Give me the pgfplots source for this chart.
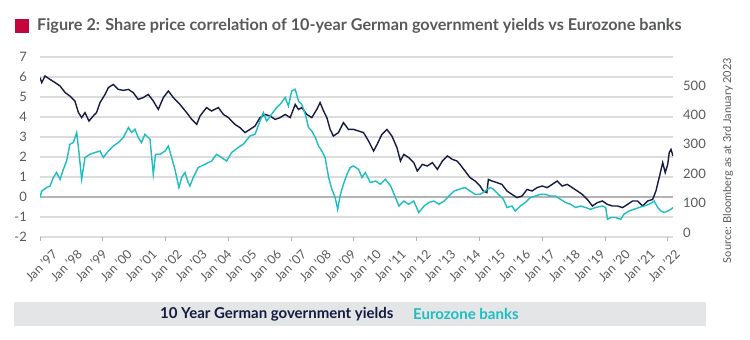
\documentclass[border=0pt]{standalone}
\usepackage{fontspec}
\setmainfont{Lato}
\usepackage{pgfplots}
\pgfplotsset{compat=1.18}
\definecolor{navy}{HTML}{141A40}
\definecolor{tealc}{HTML}{1DBDC0}
\definecolor{txt}{HTML}{58595B}
\definecolor{grd}{HTML}{DCDCDC}
\definecolor{zeroc}{HTML}{B4B4B4}
\definecolor{crim}{HTML}{C4063F}
\definecolor{legbg}{HTML}{E4E5E7}
\begin{document}
\begin{tikzpicture}
\path[use as bounding box] (0,0) rectangle (750bp,340bp);
% title
\fill[crim] (15bp,307bp) rectangle (29bp,321bp);
\node[anchor=base west, inner sep=0pt, text=txt, font=\fontsize{16.2bp}{19bp}\selectfont\bfseries] at (37bp,309bp) {Figure 2: Share price correlation of 10-year German government yields vs Eurozone banks};
% source
\node[rotate=90, inner sep=0pt, text=txt, font=\fontsize{11bp}{13bp}\selectfont] at (728bp,179.5bp) {Source: Bloomberg as at 3rd January 2023};
% legend bar
\fill[legbg] (14bp,14bp) rectangle (706bp,38bp);
\node[anchor=west, inner sep=0pt, text=navy, font=\fontsize{15bp}{17bp}\selectfont\bfseries] at (160bp,26bp) {10 Year German government yields};
\node[anchor=west, inner sep=0pt, text=tealc, font=\fontsize{15bp}{17bp}\selectfont\bfseries] at (413bp,26bp) {Eurozone banks};
\begin{axis}[
  at={(40bp,103bp)}, anchor=south west,
  scale only axis, width=633bp, height=180bp,
  xmin=1997, xmax=2022.2, ymin=-2, ymax=7,
  /pgf/number format/assume math mode=true,
  axis line style={draw=none},
  ytick={-2,-1,...,7},
  ymajorgrids, major grid style={grd, line width=1.2bp},
  major tick length=0pt,
  xtick pos=bottom, ytick pos=left,
  yticklabel style={anchor=east, inner sep=0pt, xshift=-13bp, text=txt, font=\fontsize{13bp}{15bp}\selectfont},
  xtick={1997.40,1998.39,1999.38,2000.37,2001.36,2002.36,2003.35,2004.34,2005.33,2006.32,2007.31,2008.30,2009.29,2010.29,2011.28,2012.27,2013.26,2014.25,2015.24,2016.23,2017.22,2018.21,2019.21,2020.20,2021.19,2022.18},
  xticklabels={Jan ’97,Jan ’98,Jan ’99,Jan ’00,Jan ’01,Jan ’02,Jan ’03,Jan ’04,Jan ’05,Jan ’06,Jan ’07,Jan ’08,Jan ’09,Jan ’10,Jan ’11,Jan ’12,Jan ’13,Jan ’14,Jan ’15,Jan ’16,Jan ’17,Jan ’18,Jan ’19,Jan ’20,Jan ’21,Jan ’22},
  xticklabel style={rotate=45, anchor=east, inner sep=0pt, xshift=-7bp, yshift=-14bp, text=txt, font=\fontsize{12.5bp}{14bp}\selectfont},
  extra x ticks={1997,1999.5,2002,2004.5,2007,2009.5,2012,2014.5,2017,2019.5,2022},
  extra x tick labels={},
  extra x tick style={major tick length=4bp, tick align=outside, tick style={draw=zeroc, line width=1bp}},
  extra y ticks={0}, extra y tick labels={},
  extra y tick style={ymajorgrids, major grid style={zeroc, line width=1.2bp}},
]
\addplot[navy, line width=1.4bp] coordinates {
(1997.00,5.97) (1997.07,5.72) (1997.20,6.05) (1997.40,5.88) (1997.60,5.72) (1997.80,5.55) (1998.00,5.22) (1998.19,5.05) (1998.39,4.80) (1998.53,4.22) (1998.66,3.97) (1998.79,4.22) (1998.95,3.80) (1999.12,4.05) (1999.25,4.22) (1999.39,4.72) (1999.59,5.13) (1999.72,5.47) (1999.92,5.63) (2000.12,5.38) (2000.32,5.33) (2000.52,5.38) (2000.71,5.22) (2000.91,4.88) (2001.11,4.97) (2001.31,5.13) (2001.51,4.80) (2001.71,4.38) (2001.91,4.97) (2002.11,5.30) (2002.31,4.97) (2002.57,4.63) (2002.84,4.22) (2003.04,3.88) (2003.24,3.63) (2003.37,4.05) (2003.63,4.47) (2003.83,4.30) (2004.10,4.47) (2004.30,4.13) (2004.50,3.97) (2004.76,3.63) (2004.96,3.47) (2005.16,3.22) (2005.36,3.38)
(2005.56,3.55) (2005.76,3.97) (2005.96,4.13) (2006.16,4.05) (2006.36,3.88) (2006.56,3.97) (2006.76,4.13) (2006.96,3.97) (2007.16,4.63) (2007.29,4.38) (2007.42,4.47) (2007.62,4.13) (2007.82,3.97) (2008.02,4.38) (2008.15,4.72) (2008.29,4.30) (2008.42,3.97) (2008.55,3.38) (2008.68,3.05) (2008.88,3.22) (2009.08,3.72) (2009.28,3.38) (2009.48,3.38) (2009.68,3.30) (2009.88,3.22) (2010.08,2.80) (2010.28,2.30) (2010.42,2.63) (2010.61,3.13) (2010.81,3.38) (2011.01,3.05) (2011.21,2.47) (2011.35,1.80) (2011.48,2.13) (2011.68,1.97) (2011.88,1.72) (2012.02,1.30) (2012.22,1.63) (2012.42,1.55) (2012.62,1.72) (2012.82,1.38) (2013.02,1.80) (2013.22,2.05) (2013.42,1.88) (2013.60,1.80)
(2013.72,1.63) (2013.92,1.30) (2014.12,0.97) (2014.32,0.80) (2014.52,0.55) (2014.65,0.30) (2014.79,0.22) (2014.85,0.88) (2014.99,0.80) (2015.19,0.72) (2015.39,0.63) (2015.59,0.30) (2015.79,0.13) (2015.99,-0.03) (2016.19,0.05) (2016.39,0.38) (2016.59,0.30) (2016.79,0.47) (2016.99,0.55) (2017.19,0.47) (2017.39,0.63) (2017.59,0.80) (2017.79,0.55) (2017.99,0.63) (2018.19,0.47) (2018.39,0.30) (2018.59,0.13) (2018.79,-0.12) (2018.99,-0.45) (2019.19,-0.28) (2019.39,-0.20) (2019.59,-0.37) (2019.79,-0.45) (2019.99,-0.45) (2020.19,-0.53) (2020.39,-0.37) (2020.59,-0.20) (2020.79,-0.20) (2020.99,-0.45) (2021.19,-0.20) (2021.39,-0.12) (2021.52,0.30) (2021.65,0.97) (2021.79,1.72) (2021.89,1.22) (2021.99,1.63) (2022.05,2.22) (2022.12,2.38) (2022.20,2.05)
};
\end{axis}
\begin{axis}[
  at={(40bp,103bp)}, anchor=south west,
  scale only axis, width=633bp, height=180bp,
  xmin=1997, xmax=2022.2, ymin=-15.3, ymax=596.7,
  /pgf/number format/assume math mode=true,
  axis x line=none, axis y line*=right,
  axis line style={draw=none},
  ytick={0,100,...,600},
  major tick length=0pt,
  yticklabel style={anchor=west, inner sep=0pt, xshift=10bp, text=txt, font=\fontsize{13bp}{15bp}\selectfont},
]
\addplot[tealc, line width=1.4bp] coordinates {
(1997.00,121) (1997.07,141) (1997.27,153) (1997.40,158) (1997.53,187) (1997.66,204) (1997.80,181) (1997.93,215) (1998.06,243) (1998.19,300) (1998.33,306) (1998.46,340) (1998.53,289) (1998.66,181) (1998.79,255) (1998.99,266) (1999.19,272) (1999.39,277) (1999.52,255) (1999.72,277) (1999.92,294) (2000.12,306) (2000.32,323) (2000.52,357) (2000.65,340) (2000.78,351) (2000.91,323) (2001.04,306) (2001.18,334) (2001.38,317) (2001.51,198) (2001.60,266) (2001.78,266) (2001.98,277) (2002.11,294) (2002.24,255) (2002.37,215) (2002.53,153) (2002.64,187) (2002.77,204) (2002.90,170) (2002.97,158) (2003.10,187) (2003.30,221) (2003.57,232) (2003.83,243) (2004.03,266) (2004.23,255) (2004.43,243) (2004.63,272) (2004.89,289) (2005.09,300) (2005.36,328)
(2005.56,334) (2005.76,379) (2005.89,408) (2006.02,379) (2006.22,402) (2006.42,425) (2006.56,436) (2006.76,459) (2006.89,430) (2007.02,481) (2007.16,487) (2007.29,447) (2007.42,436) (2007.56,402) (2007.69,357) (2007.82,345) (2007.96,323) (2008.09,294) (2008.22,277) (2008.35,255) (2008.49,187) (2008.62,147) (2008.75,119) (2008.85,79) (2008.96,130) (2009.08,164) (2009.22,198) (2009.35,221) (2009.48,226) (2009.68,215) (2009.82,187) (2009.95,204) (2010.15,170) (2010.36,175) (2010.55,164) (2010.75,181) (2010.96,158) (2011.15,119) (2011.29,90) (2011.48,107) (2011.68,96) (2011.88,107) (2012.08,68) (2012.29,90) (2012.48,102) (2012.68,107) (2012.88,96) (2013.09,107) (2013.28,124) (2013.49,141) (2013.69,147)
(2013.92,153) (2014.12,141) (2014.32,130) (2014.52,130) (2014.72,141) (2014.92,153) (2015.05,147) (2015.25,130) (2015.45,113) (2015.59,85) (2015.79,90) (2015.92,73) (2016.12,90) (2016.32,102) (2016.52,119) (2016.72,124) (2016.92,130) (2017.12,130) (2017.32,124) (2017.52,124) (2017.72,113) (2017.92,102) (2018.12,96) (2018.32,85) (2018.52,90) (2018.72,85) (2018.92,79) (2019.12,85) (2019.39,90) (2019.52,85) (2019.59,45) (2019.72,51) (2019.92,51) (2020.12,45) (2020.25,62) (2020.45,73) (2020.65,79) (2020.85,85) (2021.05,90) (2021.25,96) (2021.45,107) (2021.59,85) (2021.72,73) (2021.85,68) (2021.99,73) (2022.12,79) (2022.20,85)
};
\end{axis}
\end{tikzpicture}
\end{document}
